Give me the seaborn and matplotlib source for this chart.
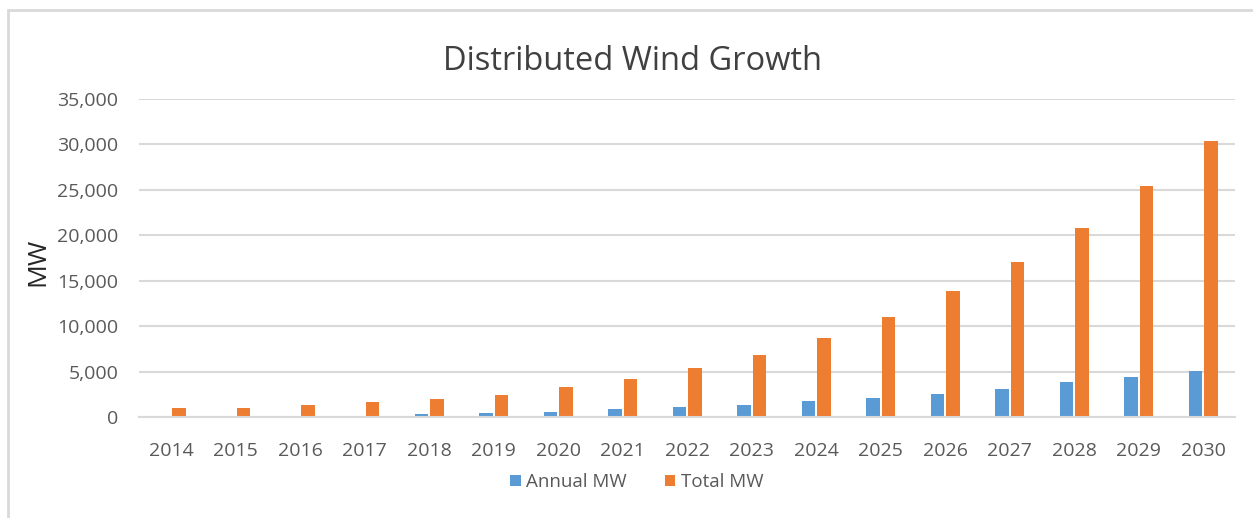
import matplotlib
matplotlib.use("Agg")
import matplotlib.pyplot as plt
import seaborn as sns
import pandas as pd
from matplotlib.patches import Rectangle

years = [str(y) for y in range(2014, 2031)]
annual_mw = [10, 20, 40, 60, 330, 450, 600, 850, 1100, 1340, 1790, 2090,
             2540, 3100, 3800, 4370, 5110]
total_mw = [1000, 1000, 1300, 1600, 2000, 2450, 3300, 4150, 5370, 6830, 8690,
            10970, 13830, 17040, 20840, 25400, 30400]

df = pd.DataFrame({
    'Year': years * 2,
    'MW': annual_mw + total_mw,
    'Series': ['Annual MW'] * len(years) + ['Total MW'] * len(years),
})

sns.set_theme(style='white')
plt.rcParams['font.family'] = ['Open Sans', 'DejaVu Sans']
text_col = '#595959'

fig = plt.figure(figsize=(12.53, 5.18), dpi=100)
ax = fig.add_axes([0.111, 0.195, 0.875, 0.614])

sns.barplot(data=df, x='Year', y='MW', hue='Series', ax=ax,
            palette=['#5B9BD5', '#ED7D31'], saturation=1, width=0.48,
            gap=0.15, edgecolor='none', legend=True)

ax.set_ylim(0, 35000)
ax.set_yticks(range(0, 35001, 5000))
ax.set_yticklabels([f'{v:,}' for v in range(0, 35001, 5000)])
ax.yaxis.grid(True, color='#d9d9d9', linewidth=1.5)
ax.set_axisbelow(True)
for s in ['top', 'right', 'left']:
    ax.spines[s].set_visible(False)
ax.spines['bottom'].set_color('#d9d9d9')
ax.spines['bottom'].set_linewidth(1.5)
ax.tick_params(axis='both', length=0, labelsize=14, colors=text_col)
ax.tick_params(axis='y', pad=15)
ax.tick_params(axis='x', pad=18)
ax.set_xlabel('')
ax.set_ylabel('')
fig.text(38 / 1253, 1 - 262 / 518, 'MW', rotation=90, fontsize=19,
         color='#262626', ha='center', va='center')

fig.text(0.505, 1 - 62 / 518, 'Distributed Wind Growth', fontsize=23.5,
         color='#404040', ha='center', va='center')

handles, labels = ax.get_legend_handles_labels()
ax.legend(handles, labels, loc='center', bbox_to_anchor=(0.454, -0.205),
          ncol=2, frameon=False, fontsize=13.5, labelcolor=text_col,
          handlelength=0.55, handleheight=0.55, handletextpad=0.3,
          columnspacing=2.0)

# light chart border
fig.patches.append(Rectangle((8 / 1253, -0.05), 1.1, 1 - 10 / 518 + 0.05,
                             transform=fig.transFigure, fill=False,
                             edgecolor='#d9d9d9', linewidth=2))

fig.savefig('out.png', dpi=100)
